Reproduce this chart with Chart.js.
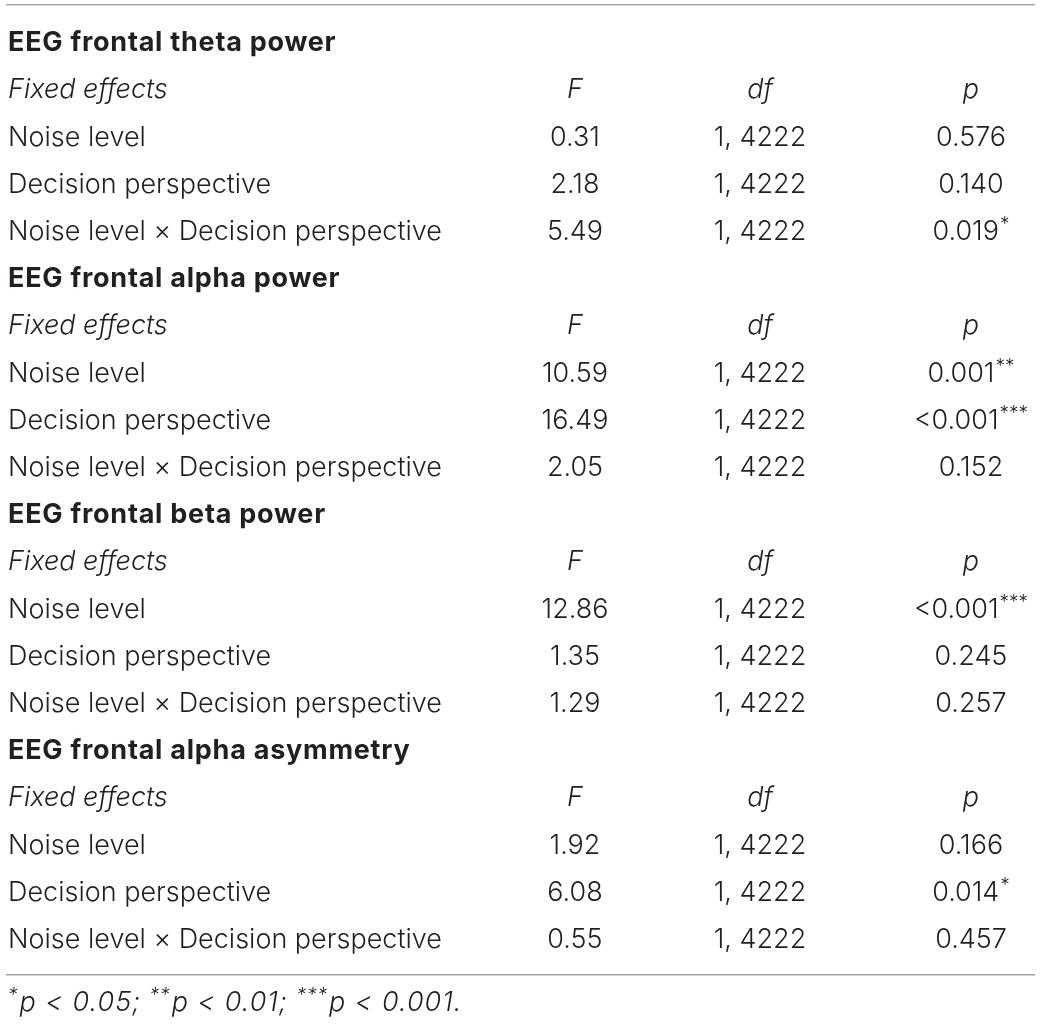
<!DOCTYPE html>
<html>
<head>
<meta charset="utf-8">
<script src="https://cdn.jsdelivr.net/npm/chart.js@4.4.1/dist/chart.umd.min.js"></script>
<style>
  html, body { margin: 0; padding: 0; background: #ffffff; }
  #wrap { width: 1041px; height: 1024px; }
</style>
</head>
<body>
<div id="wrap"><canvas id="c" width="1041" height="1024"></canvas></div>
<script>
// ---------------- data ----------------
const sections = ['EEG frontal theta power', 'EEG frontal alpha power', 'EEG frontal beta power', 'EEG frontal alpha asymmetry'];
const headers = ['Fixed effects', 'F', 'df', 'p'];
const effects = ['Noise level', 'Decision perspective', 'Noise level \u00d7 Decision perspective'];
const fTheta = [0.31, 2.18, 5.49];
const fAlpha = [10.59, 16.49, 2.05];
const fBeta = [12.86, 1.35, 1.29];
const fAsym = [1.92, 6.08, 0.55];
const dfTheta = ['1, 4222', '1, 4222', '1, 4222'];
const dfAlpha = ['1, 4222', '1, 4222', '1, 4222'];
const dfBeta = ['1, 4222', '1, 4222', '1, 4222'];
const dfAsym = ['1, 4222', '1, 4222', '1, 4222'];
const pTheta = ['0.576', '0.140', '0.019'];
const pAlpha = ['0.001', '<0.001', '0.152'];
const pBeta = ['<0.001', '0.245', '0.257'];
const pAsym = ['0.166', '0.014', '0.457'];
const starsTheta = ['', '', '*'];
const starsAlpha = ['**', '***', ''];
const starsBeta = ['***', '', ''];
const starsAsym = ['', '*', ''];
const footnote = [['*', 'p < 0.05; '], ['**', 'p < 0.01; '], ['***', 'p < 0.001.']];

const fAll = [fTheta, fAlpha, fBeta, fAsym];
const dfAll = [dfTheta, dfAlpha, dfBeta, dfAsym];
const pAll = [pTheta, pAlpha, pBeta, pAsym];
const starsAll = [starsTheta, starsAlpha, starsBeta, starsAsym];

// ---------------- layout (config) ----------------
const FONT = 'Inter';
const TEXT = '#231f20';
const RULE = '#a3a3a3';
const colX = { label: 8, F: 575, df: 760, p: 971 };
const ruleTop = -0.81, ruleBottom = 19.74, footRow = 20.33;
const ruleX0 = 6, ruleX1 = 1035;

// ---------------- build datasets ----------------
const sectionPts = [], headerPts = [], labelPts = [], fPts = [], dfPts = [], pPts = [];
let row = 0;
sections.forEach((s, si) => {
  sectionPts.push({ x: colX.label, y: row, text: s });
  row++;
  headerPts.push({ x: colX.label, y: row, text: headers[0], align: 'left' });
  headerPts.push({ x: colX.F, y: row, text: headers[1], align: 'center' });
  headerPts.push({ x: colX.df, y: row, text: headers[2], align: 'center' });
  headerPts.push({ x: colX.p, y: row, text: headers[3], align: 'center' });
  row++;
  effects.forEach((e, ei) => {
    labelPts.push({ x: colX.label, y: row, text: e });
    fPts.push({ x: colX.F, y: row, text: fAll[si][ei].toFixed(2) });
    dfPts.push({ x: colX.df, y: row, text: dfAll[si][ei] });
    pPts.push({ x: colX.p, y: row, text: pAll[si][ei], stars: starsAll[si][ei] });
    row++;
  });
});
const footPts = [{ x: colX.label, y: footRow, parts: footnote }];

const textDs = (label, data, kind) => ({
  type: 'scatter', label, data, kind, pointRadius: 0, pointHoverRadius: 0, showLine: false
});
const ruleDs = (y) => ({
  type: 'line', data: [{ x: ruleX0, y }, { x: ruleX1, y }], borderColor: RULE, borderWidth: 1.6,
  pointRadius: 0, pointHoverRadius: 0, fill: false, kind: 'rule'
});

const datasets = [
  ruleDs(ruleTop), ruleDs(ruleBottom),
  textDs('sections', sectionPts, 'section'),
  textDs('headers', headerPts, 'header'),
  textDs('labels', labelPts, 'label'),
  textDs('F', fPts, 'center'),
  textDs('df', dfPts, 'center'),
  textDs('p', pPts, 'p'),
  textDs('foot', footPts, 'foot')
];

const SIZE = 27;
const fontN = `300 ${SIZE}px ${FONT}`;
const fontI = `italic 300 ${SIZE}px ${FONT}`;
const fontB = `bold ${SIZE}px ${FONT}`;
const fontStar = `300 ${Math.round(SIZE * 0.7)}px ${FONT}`;
const fontStarI = `italic 300 ${Math.round(SIZE * 0.7)}px ${FONT}`;

const tablePlugin = {
  id: 'tableText',
  afterDatasetsDraw(chart) {
    const ctx = chart.ctx;
    ctx.save();
    ctx.fillStyle = TEXT;
    ctx.textBaseline = 'middle';
    chart.data.datasets.forEach((ds, di) => {
      if (ds.kind === 'rule') return;
      const meta = chart.getDatasetMeta(di);
      meta.data.forEach((el, j) => {
        const d = ds.data[j];
        const x = el.x, y = el.y;
        ctx.letterSpacing = '0px';
        if (ds.kind === 'section') {
          ctx.letterSpacing = '0.75px';
          ctx.font = fontB; ctx.textAlign = 'left'; ctx.fillText(d.text, x, y);
        } else if (ds.kind === 'header') {
          ctx.font = fontI; ctx.textAlign = d.align; ctx.fillText(d.text, x, y);
        } else if (ds.kind === 'label') {
          ctx.font = fontN; ctx.textAlign = 'left'; ctx.fillText(d.text, x, y);
        } else if (ds.kind === 'center') {
          ctx.font = fontN; ctx.textAlign = 'center'; ctx.fillText(d.text, x, y);
        } else if (ds.kind === 'p') {
          ctx.font = fontN;
          const w1 = ctx.measureText(d.text).width;
          ctx.font = fontStar;
          const w2 = d.stars ? ctx.measureText(d.stars).width + 1 : 0;
          const x0 = x - (w1 + w2) / 2;
          ctx.textAlign = 'left';
          ctx.font = fontN; ctx.fillText(d.text, x0, y);
          if (d.stars) { ctx.font = fontStar; ctx.fillText(d.stars, x0 + w1 + 1, y - SIZE * 0.28); }
        } else if (ds.kind === 'foot') {
          let cx = x;
          ctx.textAlign = 'left';
          ctx.letterSpacing = '1px';
          d.parts.forEach(([st, txt]) => {
            ctx.font = fontStarI; ctx.fillText(st, cx, y - SIZE * 0.28);
            cx += ctx.measureText(st).width + 1;
            ctx.font = fontI; ctx.fillText(txt, cx, y);
            cx += ctx.measureText(txt).width;
          });
        }
      });
    });
    ctx.restore();
  }
};

new Chart(document.getElementById('c'), {
  type: 'scatter',
  data: { datasets },
  options: {
    responsive: false,
    animation: false,
    devicePixelRatio: 1,
    layout: { padding: 0 },
    plugins: { legend: { display: false }, tooltip: { enabled: false } },
    events: [],
    scales: {
      x: { type: 'linear', min: 0, max: 1041, display: false },
      y: { type: 'linear', reverse: true, min: -43 / 47.2, max: (1024 - 43) / 47.2, display: false }
    }
  },
  plugins: [tablePlugin]
});
</script>
</body>
</html>
